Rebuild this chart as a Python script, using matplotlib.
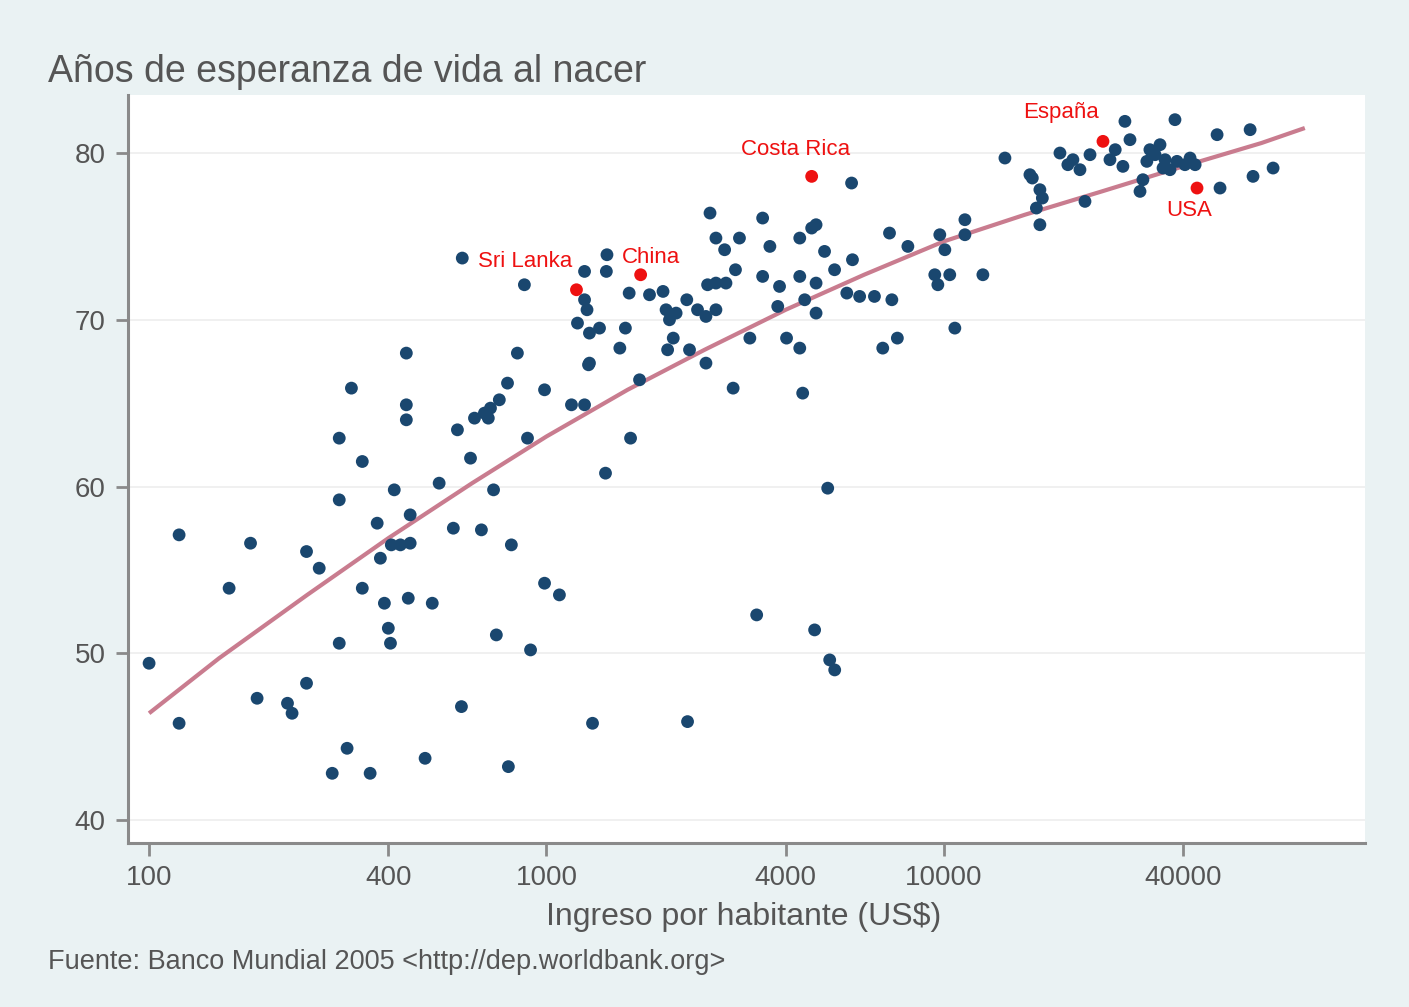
import matplotlib
matplotlib.use("Agg")
import matplotlib.pyplot as plt
from matplotlib.ticker import FixedLocator, FixedFormatter, NullLocator

# ---------------- data ----------------
income = [
    100, 119, 119, 159, 180, 187, 223, 229, 249, 249, 268, 289, 301, 301, 301, 315, 323, 344, 344, 360,
    375, 382, 391, 400, 405, 407, 414, 429, 444, 444, 444, 449, 454, 454, 495, 516, 537, 583, 597, 611,
    614, 644, 659, 686, 698, 714, 723, 736, 748, 761, 798, 802, 816, 845, 880, 896, 912, 989, 989, 1078,
    1156, 1247, 1276, 1306, 1408, 1628, 1715, 2265,
    1247, 1415, 1420, 1247, 1265, 1197, 1360, 1580, 1283, 1530, 1283, 1615, 1965, 2255, 2000, 2120,
    2040, 2085, 2520, 2670, 2544, 2670, 2830, 2520, 2950, 2580, 2670, 3060, 3500, 3650, 4340, 4770,
    5010, 3500, 3860, 4340, 4770, 3820, 4770, 3250, 4020, 4340, 4414, 5890, 5700, 6140, 6690, 7400,
    7020, 7640, 7300, 8120, 5860, 5103, 5162, 5314, 4730, 3381, 5310, 1817, 2018, 2291, 2400, 2990,
    2808, 4466, 4650,
    9490, 9660, 9770, 10060, 10350, 10660, 11300, 11300, 12540, 14250, 16470, 16700, 17450, 17700,
    17100, 17450, 19600, 21130, 23330, 22660, 20520, 22010, 28230, 28560, 29410, 32430, 35620, 38620,
    41660, 31700, 31170, 38170, 33010, 35000, 36040, 40440, 48720, 49560, 59000, 60000, 67400, 26190,
    27000, 34010, 37080, 42900,
]
life = [
    49.4, 57.1, 45.8, 53.9, 56.6, 47.3, 47.0, 46.4, 48.2, 56.1, 55.1, 42.8, 62.9, 59.2, 50.6, 44.3, 65.9, 61.5, 53.9, 42.8,
    57.8, 55.7, 53.0, 51.5, 50.6, 56.5, 59.8, 56.5, 68.0, 64.9, 64.0, 53.3, 58.3, 56.6, 43.7, 53.0, 60.2, 57.5, 63.4, 46.8,
    73.7, 61.7, 64.1, 57.4, 64.4, 64.1, 64.7, 59.8, 51.1, 65.2, 66.2, 43.2, 56.5, 68.0, 72.1, 62.9, 50.2, 65.8, 54.2, 53.5,
    64.9, 64.9, 67.3, 45.8, 60.8, 62.9, 66.4, 45.9,
    72.9, 72.9, 73.9, 71.2, 70.6, 69.8, 69.5, 69.5, 69.2, 68.3, 67.4, 71.6, 71.7, 71.2, 70.6, 70.4,
    70.0, 68.9, 70.2, 70.6, 72.1, 72.2, 72.2, 67.4, 65.9, 76.4, 74.9, 74.9, 76.1, 74.4, 74.9, 75.7,
    74.1, 72.6, 72.0, 72.6, 72.2, 70.8, 70.4, 68.9, 68.9, 68.3, 65.6, 73.6, 71.6, 71.4, 71.4, 71.2,
    68.3, 68.9, 75.2, 74.4, 78.2, 59.9, 49.6, 49.0, 51.4, 52.3, 73.0, 71.5, 68.2, 68.2, 70.6, 73.0,
    74.2, 71.2, 75.5,
    72.7, 72.1, 75.1, 74.2, 72.7, 69.5, 75.1, 76.0, 72.7, 79.7, 78.7, 78.5, 77.8, 77.3,
    76.7, 75.7, 80.0, 79.6, 79.9, 77.1, 79.3, 79.0, 79.2, 81.9, 80.8, 79.5, 79.1, 79.5,
    79.7, 78.4, 77.7, 82.0, 80.2, 80.5, 79.6, 79.3, 81.1, 77.9, 81.4, 78.6, 79.1, 79.6,
    80.2, 79.9, 79.0, 79.3,
]

# highlighted countries
hl_names = ["Sri Lanka", "China", "Costa Rica", "España", "USA"]
hl_income = [1190, 1726, 4650, 25150, 43370]
hl_life = [71.8, 72.7, 78.6, 80.7, 77.9]
hl_offset_px = [(-51, 28), (10, 17), (-16, 27), (-42, 29), (-8, -22)]

# fitted curve
fit_income = [100, 150, 250, 400, 650, 1000, 1600, 2500, 4000, 6300, 10000, 16000, 25000, 40000, 63000, 81000]
fit_life = [46.4, 49.7, 53.5, 56.9, 60.2, 63.0, 65.8, 68.2, 70.6, 72.7, 74.7, 76.3, 77.7, 79.2, 80.6, 81.5]

xticks = [100, 400, 1000, 4000, 10000, 40000]
xticklabels = ["100", "400", "1000", "4000", "10000", "40000"]
yticks = [40, 50, 60, 70, 80]

title = "Años de esperanza de vida al nacer"
xlabel = "Ingreso por habitante (US$)"
note = "Fuente: Banco Mundial 2005 <http://dep.worldbank.org>"

# ---------------- drawing ----------------
BG = "#eaf2f3"
NAVY = "#1a476f"
LINE = "#c97c8f"
RED = "#ee1111"
AXC = "#8a8a8a"
TXT = "#555555"

plt.rcParams["font.family"] = ["Liberation Sans", "DejaVu Sans"]

fig = plt.figure(figsize=(14.09, 10.07), dpi=100, facecolor=BG)
ax = fig.add_axes([128 / 1409, 1 - 843 / 1007, (1365 - 128) / 1409, (843 - 95) / 1007])
ax.set_facecolor("white")

ax.set_xscale("log")
ax.set_xlim(88.5, 114800)
ax.set_ylim(38.62, 83.48)

for yv in yticks:
    ax.axhline(yv, color="#eeeeee", lw=1.2, zorder=0)

ax.scatter(income, life, s=85, color=NAVY, edgecolors="none", zorder=3)
ax.plot(fit_income, fit_life, color=LINE, lw=3, zorder=2, solid_capstyle="butt",
        solid_joinstyle="round")
ax.scatter(hl_income, hl_life, s=85, color=RED, edgecolors="none", zorder=4)
for name, xi, yi, (dx, dy) in zip(hl_names, hl_income, hl_life, hl_offset_px):
    ax.annotate(name, (xi, yi), xytext=(dx * 0.72, dy * 0.72), textcoords="offset points",
                ha="center", va="center", color=RED, fontsize=16, zorder=5)

for s in ["top", "right"]:
    ax.spines[s].set_visible(False)
for s in ["left", "bottom"]:
    ax.spines[s].set_color(AXC)
    ax.spines[s].set_linewidth(2.2)

ax.xaxis.set_major_locator(FixedLocator(xticks))
ax.xaxis.set_major_formatter(FixedFormatter(xticklabels))
ax.xaxis.set_minor_locator(NullLocator())
ax.yaxis.set_major_locator(FixedLocator(yticks))
ax.yaxis.set_minor_locator(NullLocator())
ax.tick_params(axis="both", direction="out", length=9, width=2, color=AXC,
               labelsize=20, labelcolor=TXT, pad=7)

fig.text(48 / 1409, 1 - 72 / 1007, title, ha="left", va="center", fontsize=27, color=TXT)
fig.text(744 / 1409, 1 - 917 / 1007, xlabel, ha="center", va="center", fontsize=23, color=TXT)
fig.text(48 / 1409, 1 - 962 / 1007, note, ha="left", va="center", fontsize=19.5, color=TXT)

fig.savefig("out.png", dpi=100, facecolor=BG)
